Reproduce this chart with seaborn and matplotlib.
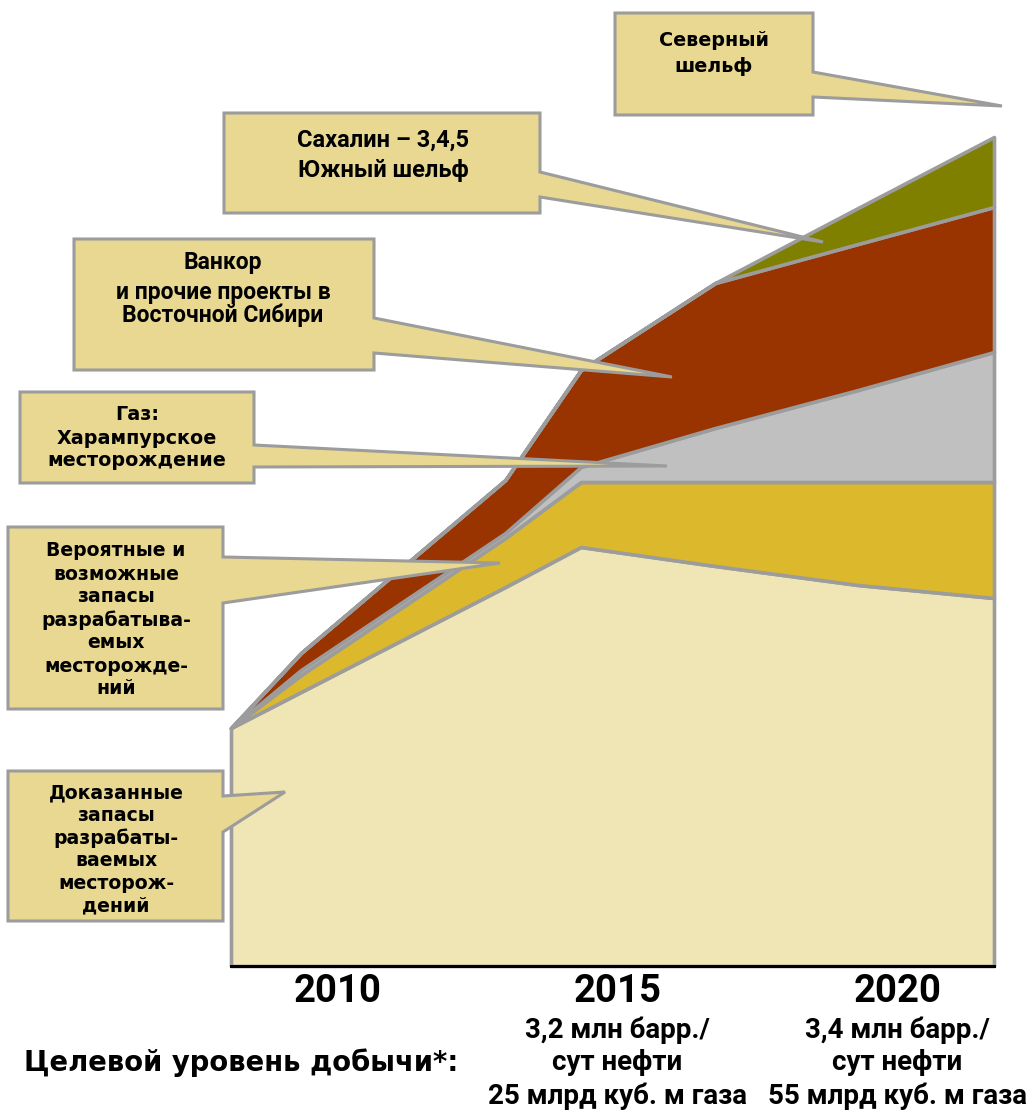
import matplotlib
matplotlib.use("Agg")
import matplotlib.pyplot as plt
import matplotlib.transforms as mtransforms
from matplotlib.patches import Polygon
import seaborn as sns

# --- DATA (volume in arbitrary units) ---
years = [2008.1, 2009.35, 2013.0, 2014.35, 2016.75, 2019.3, 2021.73]
proven = [23.8, 27.4, 37.9, 41.9, 40.0, 38.1, 36.8]
probable = [0.0, 1.7, 4.9, 6.5, 8.4, 10.3, 11.6]
gas = [0.0, 0.5, 0.5, 1.5, 5.4, 9.2, 13.0]
vankor = [0.0, 1.7, 5.3, 9.7, 14.5, 14.6, 14.5]
sakhalin = [0.0, 0.0, 0.0, 0.0, 0.0, 3.6, 7.0]

layer_colors = ["#F0E5B4", "#DCB82C", "#C0C0C0", "#993300", "#808000"]
tick_years = [2010, 2015, 2020]
target_label = "Целевой уровень добычи*:"
target_2015 = ["3,2 млн барр./", "сут нефти", "25 млрд куб. м газа"]
target_2020 = ["3,4 млн барр./", "сут нефти", "55 млрд куб. м газа"]

# callout texts
txt_north = ["Северный", "шельф"]
txt_sakhalin = ["Сахалин – 3,4,5", "Южный шельф"]
txt_vankor = ["Ванкор", "и прочие проекты в", "Восточной Сибири"]
txt_gas = ["Газ:", "Харампурское", "месторождение"]
txt_probable = ["Вероятные и", "возможные", "запасы", "разрабатыва-", "емых",
                "месторожде-", "ний"]
txt_proven = ["Доказанные", "запасы", "разрабаты-", "ваемых", "месторож-", "дений"]

# --- STYLE ---
sns.set_theme(style="white")
plt.rcParams['font.family'] = ['DejaVu Sans']
EDGE = "#9C9C9C"
BOX = "#E8D891"
W, H = 1034, 1112

fig = plt.figure(figsize=(W / 100, H / 100), dpi=100)
# main axes: pixel box 231..994 x 100..966
ax = fig.add_axes([231 / W, 1 - 966 / H, (994 - 231) / W, (966 - 100) / H])

polys = ax.stackplot(years, proven, probable, gas, vankor, sakhalin,
                     colors=layer_colors, edgecolor=EDGE, linewidth=2.6)
for p in polys:
    p.set_clip_on(False)

ax.set_xlim(years[0], years[-1])
ax.set_ylim(0, 86.6)
ax.set_yticks([])
ax.set_xticks(tick_years)
ax.set_xticklabels([str(y) for y in tick_years], fontfamily='Roboto',
                   fontweight='bold', fontsize=27.5, color='black')
ax.tick_params(axis='x', length=0, pad=5)
sns.despine(ax=ax, left=True)
ax.spines['bottom'].set_color('black')
ax.spines['bottom'].set_linewidth(2.2)
ax.spines['bottom'].set_zorder(5)
ax.set_facecolor('none')
ax.grid(False)

# overlay in pixel coordinates for callouts and footnote texts
ov = fig.add_axes([0, 0, 1, 1], zorder=10)
ov.set_xlim(0, W)
ov.set_ylim(H, 0)
ov.axis('off')
ov.patch.set_alpha(0)


def callout(box, ptr, tip, lines, ys, cx, family, size):
    x0, y0, x1, y1 = box
    pts = [(x0, y0), (x1, y0), (x1, ptr[0]), tip, (x1, ptr[1]), (x1, y1), (x0, y1)]
    ov.add_patch(Polygon(pts, closed=True, fc=BOX, ec=EDGE, lw=2.2))
    for line, y in zip(lines, ys):
        ov.text(cx, y, line, ha='center', va='center', fontsize=size,
                fontweight='bold', family=family, color='black')


callout((615, 13, 813, 115), (72, 97), (1002, 106), txt_north, [41, 66], 714,
        'DejaVu Sans', 13.8)
callout((224, 113, 540, 213), (172, 197), (823, 242), txt_sakhalin, [140, 170], 383,
        'Roboto', 17)
callout((74, 239, 374, 370), (318, 353), (672, 377), txt_vankor, [263, 292, 315], 223,
        'Roboto', 16.5)
callout((20, 392, 254, 483), (445, 467), (667, 466), txt_gas, [415, 438, 460], 137,
        'DejaVu Sans', 13.8)
callout((8, 527, 223, 709), (557, 603), (500, 563), txt_probable,
        [551 + 23 * i for i in range(len(txt_probable))], 116, 'DejaVu Sans', 13.6)
callout((8, 771, 223, 921), (796, 832), (285, 792), txt_proven,
        [793 + 22.6 * i for i in range(len(txt_proven))], 116, 'DejaVu Sans', 13.6)

# target production texts under the year ticks
blend = mtransforms.blended_transform_factory(ax.transData, ov.transData)
for yr, lines in zip(tick_years[1:], [target_2015, target_2020]):
    for line, y in zip(lines, [1030, 1063, 1096]):
        ov.text(yr, y, line, transform=blend, ha='center', va='center',
                fontsize=20, fontweight='bold', family='Roboto', color='black')
ov.text(241, 1063, target_label, ha='center', va='center', fontsize=19.8,
        fontweight='bold', family='DejaVu Sans', color='black')

fig.savefig("out.png", dpi=100)
